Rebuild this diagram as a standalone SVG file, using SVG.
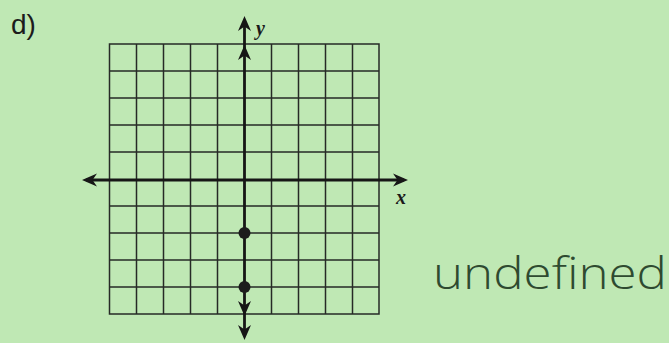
<svg xmlns="http://www.w3.org/2000/svg" width="669" height="343" viewBox="0 0 669 343">
<defs>
<style>
.grid{stroke:#262a26;stroke-width:1.5;fill:none}
.axis{stroke:#161616;stroke-width:2.8;fill:none}
.head{fill:#161616;stroke:none}
.dot{fill:#1c1c1c}
.lbl{font-family:"Liberation Serif",serif;font-style:italic;font-weight:bold;font-size:20px;fill:#1a1a1a}
</style>
<path id="ah" class="head" d="M0,0 L6.5,15 L0,10.5 L-6.5,15 Z"/>
</defs>
<rect x="0" y="0" width="669" height="343" fill="#bfe8b4"/>
<g id="title"><text x="11" y="34" font-family="Liberation Sans, Arial, sans-serif" font-size="28" fill="#1c1c1c">d)</text></g>
<g id="grid">
<rect class="grid" x="109.5" y="44" width="269.5" height="270"/>
<path class="grid" d="M136.5,44V314M163.5,44V314M190.5,44V314M217.5,44V314M271.5,44V314M298.5,44V314M325.5,44V314M352.5,44V314
M109.5,71H379M109.5,98H379M109.5,125H379M109.5,152H379M109.5,206H379M109.5,233H379M109.5,260H379M109.5,287H379"/>
</g>
<g id="connectors">
<line class="axis" x1="86" y1="180" x2="404" y2="180"/>
<use href="#ah" transform="translate(82,180) rotate(-90)"/>
<use href="#ah" transform="translate(408,180) rotate(90)"/>
<line class="axis" x1="244.5" y1="20" x2="244.5" y2="336"/>
<use href="#ah" transform="translate(244.5,16)"/>
<use href="#ah" transform="translate(244.5,45)"/>
<use href="#ah" transform="translate(244.5,316) rotate(180)"/>
<use href="#ah" transform="translate(244.5,340) rotate(180)"/>
</g>
<g id="labels">
<text class="lbl" x="256" y="35">y</text>
<text class="lbl" x="396" y="204">x</text>
</g>
<g id="points">
<circle class="dot" cx="244.5" cy="233" r="6"/>
<circle class="dot" cx="244.5" cy="287" r="6"/>
</g>
<g id="note"><text x="433" y="289" font-family="Open Sans, DejaVu Sans, sans-serif" font-size="44" font-weight="300" fill="#2e4a30" textLength="234" lengthAdjust="spacingAndGlyphs">undefined</text></g>
</svg>
